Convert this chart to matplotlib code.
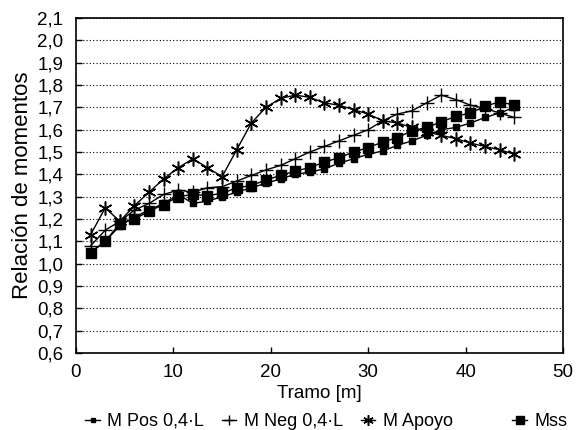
import numpy as np
import matplotlib.pyplot as plt
from matplotlib.ticker import FuncFormatter, MultipleLocator

plt.rcParams['font.family'] = ['Liberation Sans', 'DejaVu Sans']

tramo = np.arange(1, 31) * 1.5

m_pos = [1.05, 1.10, 1.17, 1.21, 1.24, 1.27, 1.31, 1.27, 1.28, 1.30,
         1.32, 1.34, 1.36, 1.38, 1.40, 1.41, 1.425, 1.45, 1.47, 1.49,
         1.505, 1.53, 1.55, 1.575, 1.60, 1.61, 1.63, 1.655, 1.675, 1.70]
m_neg = [1.08, 1.15, 1.19, 1.24, 1.27, 1.31, 1.33, 1.32, 1.34, 1.345,
         1.37, 1.395, 1.42, 1.44, 1.47, 1.50, 1.525, 1.55, 1.575, 1.60,
         1.64, 1.67, 1.685, 1.72, 1.755, 1.735, 1.71, 1.695, 1.675, 1.655]
m_apoyo = [1.13, 1.25, 1.19, 1.26, 1.32, 1.38, 1.43, 1.47, 1.43, 1.39,
           1.51, 1.63, 1.70, 1.74, 1.755, 1.745, 1.72, 1.71, 1.69, 1.67,
           1.64, 1.63, 1.61, 1.59, 1.575, 1.56, 1.54, 1.525, 1.51, 1.49]
mss = [1.05, 1.10, 1.18, 1.20, 1.235, 1.265, 1.30, 1.31, 1.305, 1.315,
       1.34, 1.35, 1.375, 1.395, 1.415, 1.43, 1.455, 1.475, 1.50, 1.52,
       1.545, 1.565, 1.595, 1.61, 1.635, 1.66, 1.675, 1.705, 1.725, 1.71]

fig = plt.figure(figsize=(5.77, 4.30), dpi=100)
ax = fig.add_axes([0.1317, 0.179, 0.844, 0.779])

p1, = ax.plot(tramo, m_pos, color='black', lw=1.0, marker='s', ms=4, label='M Pos 0,4·L')
p2, = ax.plot(tramo, m_neg, color='black', lw=1.0, marker='+', ms=10, mew=1.0, label='M Neg 0,4·L')
p3, = ax.plot(tramo, m_apoyo, color='black', lw=1.0, marker=(6, 2, 0), ms=10, mew=1.1, label='M Apoyo')
p4, = ax.plot(tramo, mss, color='black', lw=1.0, marker='s', ms=7.5, label='Mss')

ax.set_xlim(0, 50)
ax.set_ylim(0.6, 2.1)
ax.xaxis.set_major_locator(MultipleLocator(10))
ax.yaxis.set_major_locator(MultipleLocator(0.1))
ax.yaxis.set_major_formatter(FuncFormatter(lambda v, p: f'{v:.1f}'.replace('.', ',')))
ax.grid(axis='y', linestyle=(0, (1, 2)), color='black', lw=0.8)
ax.tick_params(direction='in', length=4, width=1, labelsize=13.5)
ax.tick_params(axis='y', pad=9)
ax.tick_params(axis='x', pad=8)
for s in ax.spines.values():
    s.set_linewidth(1.2)

ax.set_xlabel('Tramo [m]', fontsize=13.5, labelpad=3)
ax.set_ylabel('Relación de momentos', fontsize=16, labelpad=3)

leg_kw = dict(frameon=False, fontsize=13, handlelength=0.8, handletextpad=0.4,
              columnspacing=1.0, borderpad=0, borderaxespad=0, markerscale=0.75)
leg1 = fig.legend([p1, p2, p3], ['M Pos 0,4·L', 'M Neg 0,4·L', 'M Apoyo'], ncol=3,
                  loc='center left', bbox_to_anchor=(0.148, 0.02), **leg_kw)
leg2 = fig.legend([p4], ['Mss'], loc='center left', bbox_to_anchor=(0.888, 0.02), **leg_kw)

fig.savefig('out.png', dpi=100)
